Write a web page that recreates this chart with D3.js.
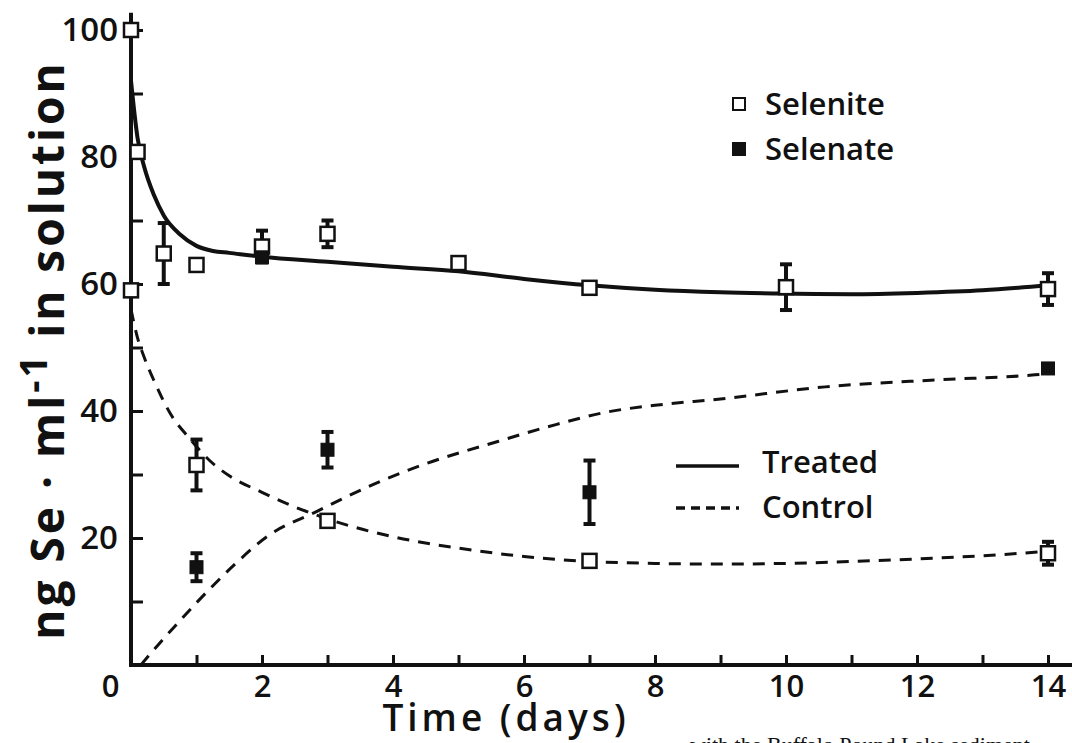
<!DOCTYPE html>
<html>
<head>
<meta charset="utf-8">
<script src="https://cdn.jsdelivr.net/npm/d3@7"></script>
<style>
body { margin: 0; background: #fff; }
svg { display: block; }
text { font-family: "Open Sans", sans-serif; font-weight: 700; fill: #111; }
</style>
</head>
<body>
<div class="chart"></div>
<script>
// 読み取った値 (t = 日数, v = ng Se/ml, e = 誤差)
const seleniteTreated = [
    { t: 0, v: 100 }, { t: 0.1, v: 80.8 }, { t: 0.5, v: 64.8, e: 4.8 }, { t: 1, v: 63 },
    { t: 2, v: 65.9, e: 2.5 }, { t: 3, v: 67.9, e: 2.1 }, { t: 5, v: 63.3 },
    { t: 7, v: 59.4 }, { t: 10, v: 59.5, e: 3.6 }, { t: 14, v: 59.2, e: 2.5 }
];
const seleniteControl = [
    { t: 0, v: 59 }, { t: 1, v: 31.5, e: 4 }, { t: 3, v: 22.7 }, { t: 7, v: 16.4 }, { t: 14, v: 17.6, e: 1.8 }
];
const selenateTreated = [{ t: 2, v: 64.2 }];
const selenateControl = [
    { t: 1, v: 15.4, e: 2.2 }, { t: 3, v: 33.9, e: 2.8 }, { t: 7, v: 27.2, e: 5 }, { t: 14, v: 46.7 }
];

// 曲線 (手書きのフィット線)
const treatedCurve = [
    [0, 92], [0.1, 83], [0.2, 78.5], [0.35, 74], [0.5, 70.8], [0.75, 67.8], [1, 66], [1.25, 65.2],
    [1.5, 64.9], [2, 64.3], [3, 63.5], [4, 62.7], [5, 62], [6, 60.8], [7, 59.8], [8, 59.1],
    [9, 58.7], [10, 58.5], [11, 58.4], [12, 58.6], [13, 59], [14, 59.8]
];
const controlDown = [
    [0, 56], [0.1, 51.5], [0.2, 48.5], [0.35, 44.8], [0.6, 39.6], [0.9, 35.6], [1.2, 32.2],
    [1.5, 29.8], [2, 27.2], [2.5, 24.9], [3, 23], [4, 20.2], [5, 18.4], [6, 17.1], [7, 16.3],
    [8, 16], [9, 15.9], [10, 16], [11, 16.3], [12, 16.7], [13, 17.2], [14, 17.9]
];
const controlUp = [
    [0.15, 0], [0.4, 3], [0.66, 6], [1, 9.8], [1.3, 13], [1.6, 16], [2.1, 20.4], [2.8, 24],
    [3.8, 28.9], [4.5, 31.7], [5.6, 35.2], [6.5, 37.9], [7.3, 39.9], [8, 40.9], [9, 41.9],
    [10.6, 43.8], [12.3, 44.9], [13.8, 45.7], [14, 45.9]
];

const xTicks = d3.range(0, 15);
const yTicks = d3.range(10, 101, 10);

const W = 1072, H = 743;
const svg = d3.select(".chart").append("svg").attr("width", W).attr("height", H);

const x = d3.scaleLinear().domain([0, 14]).range([131, 1048]);
const y = d3.scaleLinear().domain([0, 100]).range([665, 30]);

// 軸
const yAxis = d3.axisLeft(y).tickValues(yTicks).tickSizeInner(-12).tickSizeOuter(0)
    .tickPadding(13).tickFormat(d => d % 20 === 0 ? d : "");
const gy = svg.append("g").attr("transform", `translate(${x(0)},0)`).call(yAxis);
gy.select(".domain").remove();
gy.selectAll(".tick line").attr("stroke", "#111").attr("stroke-width", 3);
gy.selectAll(".tick text").style("font-size", "33px").style("font-weight", 600).attr("fill", "#111");

const xAxis = d3.axisBottom(x).tickValues(xTicks).tickSizeInner(-10).tickSizeOuter(0)
    .tickPadding(10).tickFormat(d => d % 2 === 0 ? d : "");
const gx = svg.append("g").attr("transform", `translate(0,${y(0)})`).call(xAxis);
gx.select(".domain").remove();
gx.selectAll(".tick line").attr("stroke", "#111").attr("stroke-width", 3);
gx.selectAll(".tick text").style("font-size", "31px").style("font-weight", 600).attr("fill", "#111")
    .attr("x", d => d === 0 ? -21 : 0);

svg.append("line").attr("x1", x(0)).attr("x2", W).attr("y1", y(0)).attr("y2", y(0))
    .attr("stroke", "#111").attr("stroke-width", 4);
svg.append("line").attr("x1", x(0)).attr("x2", x(0)).attr("y1", y(0) + 2).attr("y2", y(102.7))
    .attr("stroke", "#111").attr("stroke-width", 4);

// 軸タイトル
svg.append("text").attr("x", 506).attr("y", 731).attr("text-anchor", "middle")
    .style("font-size", "37px").style("font-weight", 600).style("letter-spacing", "4px")
    .text("Time (days)");

const yt = svg.append("text").attr("transform", "translate(64,350) rotate(-90)")
    .attr("text-anchor", "middle").style("font-size", "46px").style("letter-spacing", "3px");
yt.append("tspan").text("ng Se · ml");
yt.append("tspan").attr("dy", -17).style("font-size", "38px").text("-1");
yt.append("tspan").attr("dy", 17).text(" in solution");

// 曲線
const line = d3.line().x(d => x(d[0])).y(d => y(d[1])).curve(d3.curveMonotoneX);
svg.append("path").datum(treatedCurve).attr("d", line)
    .attr("fill", "none").attr("stroke", "#111").attr("stroke-width", 4);
svg.append("path").datum(controlDown).attr("d", line)
    .attr("fill", "none").attr("stroke", "#111").attr("stroke-width", 3).attr("stroke-dasharray", "12 9");
svg.append("path").datum(controlUp).attr("d", line)
    .attr("fill", "none").attr("stroke", "#111").attr("stroke-width", 3).attr("stroke-dasharray", "12 9");

// 誤差棒とマーカー
function drawPoints(data, filled) {
    const g = svg.append("g");
    const withErr = data.filter(d => d.e);
    g.selectAll(".bar").data(withErr).enter().append("line")
        .attr("x1", d => x(d.t)).attr("x2", d => x(d.t))
        .attr("y1", d => y(d.v - d.e)).attr("y2", d => y(d.v + d.e))
        .attr("stroke", "#111").attr("stroke-width", 4);
    [-1, 1].forEach(s => {
        g.selectAll(".cap" + s).data(withErr).enter().append("line")
            .attr("x1", d => x(d.t) - 6).attr("x2", d => x(d.t) + 6)
            .attr("y1", d => y(d.v + s * d.e)).attr("y2", d => y(d.v + s * d.e))
            .attr("stroke", "#111").attr("stroke-width", 4);
    });
    const sz = filled ? 13 : 14;
    g.selectAll("rect").data(data).enter().append("rect")
        .attr("x", d => x(d.t) - sz / 2).attr("y", d => y(d.v) - sz / 2)
        .attr("width", sz).attr("height", sz)
        .attr("fill", filled ? "#111" : "#fff")
        .attr("stroke", "#111").attr("stroke-width", filled ? 1 : 2.5);
}
drawPoints(seleniteTreated, false);
drawPoints(seleniteControl, false);
drawPoints(selenateTreated, true);
drawPoints(selenateControl, true);

// 凡例
const legSym = [
    { label: "Selenite", filled: false, y: 104 },
    { label: "Selenate", filled: true, y: 149 }
];
legSym.forEach(l => {
    svg.append("rect").attr("x", 733).attr("y", l.y - 6).attr("width", 12).attr("height", 12)
        .attr("fill", l.filled ? "#111" : "#fff").attr("stroke", "#111").attr("stroke-width", 2);
    svg.append("text").attr("x", 765).attr("y", l.y + 11).style("font-size", "31px").style("font-weight", 600).text(l.label);
});
const legLine = [
    { label: "Treated", dash: null, y: 466 },
    { label: "Control", dash: "9 6", y: 508 }
];
legLine.forEach(l => {
    svg.append("line").attr("x1", 676).attr("x2", 739).attr("y1", l.y).attr("y2", l.y)
        .attr("stroke", "#111").attr("stroke-width", 3.5).attr("stroke-dasharray", l.dash);
    svg.append("text").attr("x", 762).attr("y", l.y + (l.dash ? 10 : 7)).style("font-size", "31px").style("font-weight", 600).text(l.label);
});

// 下の切れたキャプション
svg.append("text").attr("x", 690).attr("y", 752)
    .style("font-family", "'Liberation Serif', serif").style("font-weight", 400).style("font-size", "22px")
    .text("with the Buffalo Pound Lake sediment");
</script>
</body>
</html>
